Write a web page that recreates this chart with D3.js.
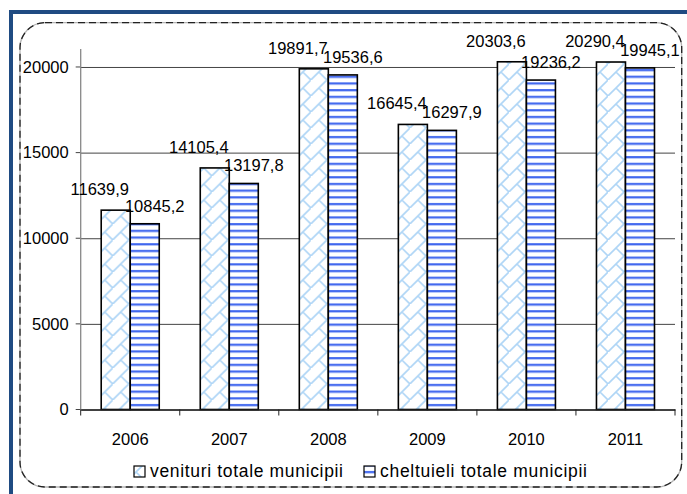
<!DOCTYPE html>
<html>
<head>
<meta charset="utf-8">
<script src="https://cdnjs.cloudflare.com/ajax/libs/d3/7.8.5/d3.min.js"></script>
<style>
  body { margin: 0; background: #fff; }
  text { font-family: "Liberation Sans", Arial, sans-serif; font-size: 16.5px; fill: #000; }
  .legend text { font-size: 17.5px; }
</style>
</head>
<body>
<div id="chart"></div>
<script>
// data
var years = ["2006", "2007", "2008", "2009", "2010", "2011"];
var venituri = [11639.9, 14105.4, 19891.7, 16645.4, 20303.6, 20290.4];
var cheltuieli = [10845.2, 13197.8, 19536.6, 16297.9, 19236.2, 19945.1];
var seriesNames = ["venituri totale municipii", "cheltuieli totale municipii"];
var yTicks = [0, 5000, 10000, 15000, 20000];

var width = 687, height = 494;
var plot = { left: 80.7, right: 675, top: 49, bottom: 409.5 };

var svg = d3.select("#chart")
    .append("svg")
    .attr("width", width)
    .attr("height", height);

// fill patterns
var defs = svg.append("defs");
var brick = defs.append("pattern")
    .attr("id", "brick")
    .attr("patternUnits", "userSpaceOnUse")
    .attr("width", 16).attr("height", 16);
brick.append("rect").attr("width", 16).attr("height", 16).attr("fill", "#fff");
brick.append("path")
    .attr("d", "M-1,17 L17,-1 M8,8 L17,17 M-1,-1 L0,0")
    .attr("stroke", "#aed5f6")
    .attr("stroke-width", 1.6)
    .attr("fill", "none");

var stripes = defs.append("pattern")
    .attr("id", "stripes")
    .attr("patternUnits", "userSpaceOnUse")
    .attr("width", 8).attr("height", 6.7);
stripes.append("rect").attr("width", 8).attr("height", 6.7).attr("fill", "#fff");
stripes.append("rect").attr("y", 2).attr("width", 8).attr("height", 2.2).attr("fill", "#3f66ee");

// outer frame (blue, top and left)
svg.append("rect")
    .attr("x", 11).attr("y", 12)
    .attr("width", width + 20).attr("height", height + 20)
    .attr("fill", "none")
    .attr("stroke", "#1f4b82")
    .attr("stroke-width", 4);

// rounded chart area border
svg.append("rect")
    .attr("x", 20).attr("y", 22.7)
    .attr("width", 661.7).attr("height", 464.3)
    .attr("rx", 25).attr("ry", 25)
    .attr("fill", "#fff")
    .attr("stroke", "#b5b5b5")
    .attr("stroke-width", 1.3);
svg.append("rect")
    .attr("x", 20).attr("y", 22.7)
    .attr("width", 661.7).attr("height", 464.3)
    .attr("rx", 25).attr("ry", 25)
    .attr("fill", "none")
    .attr("stroke", "#222")
    .attr("stroke-width", 1.3)
    .attr("stroke-dasharray", "7,4");

// scales
var x = d3.scaleBand()
    .domain(years)
    .range([plot.left, plot.right]);

var xs = d3.scaleBand()
    .domain([0, 1])
    .range([0, x.bandwidth()])
    .paddingOuter(0.707);

var y = d3.scaleLinear()
    .domain([0, 21050])
    .range([plot.bottom, plot.top]);

// gridlines + y axis
var yAxis = d3.axisLeft(y)
    .tickValues(yTicks)
    .tickSize(-(plot.right - plot.left))
    .tickPadding(12)
    .tickFormat(d3.format("d"));

svg.append("g")
    .attr("transform", "translate(" + plot.left + ",0)")
    .call(yAxis)
    .call(function(g) {
      g.select(".domain").remove();
      g.selectAll(".tick line").attr("stroke", "#444").attr("stroke-width", 1);
      g.selectAll(".tick text").attr("font-size", null).attr("font-family", null).attr("fill", "#000");
    });

// small outward y ticks
svg.append("g")
    .selectAll("line")
    .data(yTicks)
    .enter()
    .append("line")
    .attr("x1", plot.left - 5).attr("x2", plot.left)
    .attr("y1", d => y(d)).attr("y2", d => y(d))
    .attr("stroke", "#444");

// y axis line
svg.append("line")
    .attr("x1", plot.left).attr("x2", plot.left)
    .attr("y1", plot.top).attr("y2", plot.bottom)
    .attr("stroke", "#888")
    .attr("stroke-width", 1.3);

// bars
var groups = svg.append("g")
    .selectAll("g")
    .data(years)
    .enter()
    .append("g")
    .attr("transform", d => "translate(" + x(d) + ",0)");

groups.append("rect")
    .attr("x", xs(0))
    .attr("width", xs.bandwidth())
    .attr("y", (d, i) => y(venituri[i]))
    .attr("height", (d, i) => y(0) - y(venituri[i]))
    .attr("fill", "url(#brick)")
    .attr("stroke", "#000")
    .attr("stroke-width", 1.6);

groups.append("rect")
    .attr("x", xs(1))
    .attr("width", xs.bandwidth())
    .attr("y", (d, i) => y(cheltuieli[i]))
    .attr("height", (d, i) => y(0) - y(cheltuieli[i]))
    .attr("fill", "url(#stripes)")
    .attr("stroke", "#000")
    .attr("stroke-width", 1.6);

// value labels
var fmt = v => v.toFixed(1).replace(".", ",");

groups.append("text")
    .attr("text-anchor", "middle")
    .attr("x", xs(0) + xs.bandwidth() / 2 - 16)
    .attr("y", (d, i) => y(venituri[i]) - 15)
    .text((d, i) => fmt(venituri[i]));

groups.append("text")
    .attr("text-anchor", "middle")
    .attr("x", xs(1) + xs.bandwidth() / 2 + 10)
    .attr("y", (d, i) => y(cheltuieli[i]) - 12)
    .text((d, i) => fmt(cheltuieli[i]));

// x axis
var xAxis = d3.axisBottom(x)
    .tickSize(0)
    .tickPadding(24);

svg.append("g")
    .attr("transform", "translate(0," + plot.bottom + ")")
    .call(xAxis)
    .call(function(g) {
      g.select(".domain").attr("stroke", "#222").attr("stroke-width", 1.3);
      g.selectAll(".tick text").attr("font-size", null).attr("font-family", null).attr("fill", "#000");
    });

// category separator ticks
svg.append("g")
    .selectAll("line")
    .data(years.concat(["end"]))
    .enter()
    .append("line")
    .attr("x1", (d, i) => plot.left + i * x.step())
    .attr("x2", (d, i) => plot.left + i * x.step())
    .attr("y1", plot.bottom)
    .attr("y2", plot.bottom + 6)
    .attr("stroke", "#222");

// legend
var legend = svg.append("g").attr("class", "legend");
var legendX = [134, 364];
var legendFill = ["url(#brick)", "url(#stripes)"];

seriesNames.forEach(function(name, i) {
  legend.append("rect")
    .attr("x", legendX[i]).attr("y", 466)
    .attr("width", 11).attr("height", 11)
    .attr("fill", legendFill[i])
    .attr("stroke", "#000")
    .attr("stroke-width", 1.2);
  legend.append("text")
    .attr("x", legendX[i] + 16)
    .attr("y", 477)
    .attr("textLength", i === 0 ? 193 : 207)
    .attr("lengthAdjust", "spacing")
    .text(name);
});
</script>
</body>
</html>
